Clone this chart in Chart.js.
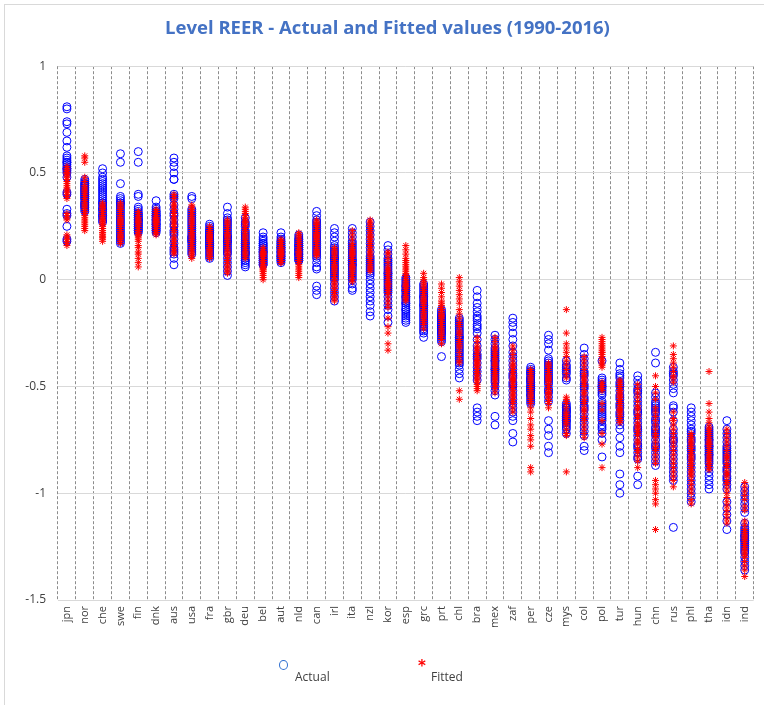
<!DOCTYPE html>
<html>
<head>
<meta charset="UTF-8" />
<title>Level REER - Actual and Fitted values</title>
<style>
    html, body { margin: 0; padding: 0; background: #fff; }
    #wrap { position: relative; width: 764px; height: 705px; overflow: hidden; }
    #frame { position: absolute; left: 4px; top: 4px; width: 780px; height: 720px; border: 1px solid #d9d9d9; box-sizing: border-box; }
    .leg { position: absolute; font-family: 'Open Sans', sans-serif; font-size: 12px; color: #404040; }
    #legActualMark { position: absolute; left: 279px; top: 660px; width: 7px; height: 8px; border: 1.3px solid #2f6fd0; border-radius: 50%; }
    #legFittedMark { position: absolute; left: 418px; top: 659px; color: #ff0000; font-family: 'DejaVu Sans', sans-serif; font-size: 15px; font-weight: bold; line-height: 15px; }
</style>
</head>
<body>
<div id="wrap">
    <div id="frame"></div>
    <canvas id="reerChart" width="764" height="705"></canvas>
    <div id="legActualMark"></div>
    <div class="leg" style="left:295px; top:668px;">Actual</div>
    <div id="legFittedMark">*</div>
    <div class="leg" style="left:431px; top:668px;">Fitted</div>
</div>
<script src="https://cdn.jsdelivr.net/npm/chart.js"></script>
<script>
const countries = ['jpn','nor','che','swe','fin','dnk','aus','usa','fra','gbr','deu','bel','aut','nld','can','irl','ita','nzl','kor','esp',
    'grc','prt','chl','bra','mex','zaf','per','cze','mys','col','pol','tur','hun','chn','rus','phl','tha','idn','ind'];

// actual values 1990-2016, one row per country (same order as countries)
const actualValues = [
    [0.81,0.80,0.74,0.73,0.69,0.65,0.62,0.58,0.57,0.56,0.55,0.55,0.54,0.53,0.52,0.52,0.51,0.50,0.48,0.41,0.40,0.33,0.31,0.30,0.25,0.19,0.18], // jpn
    [0.47,0.46,0.45,0.44,0.43,0.42,0.41,0.40,0.39,0.38,0.37,0.36,0.35,0.34,0.33,0.32,0.45,0.44,0.42,0.40,0.38,0.36,0.35,0.34,0.43,0.41,0.39], // nor
    [0.52,0.50,0.48,0.47,0.45,0.44,0.43,0.41,0.40,0.39,0.38,0.37,0.36,0.35,0.34,0.33,0.32,0.31,0.30,0.29,0.28,0.27,0.42,0.46,0.36,0.33,0.30], // che
    [0.59,0.55,0.45,0.39,0.38,0.37,0.36,0.35,0.34,0.33,0.32,0.31,0.30,0.29,0.28,0.27,0.26,0.25,0.24,0.23,0.22,0.21,0.20,0.19,0.18,0.17,0.36], // swe
    [0.60,0.55,0.40,0.39,0.34,0.33,0.32,0.31,0.30,0.30,0.29,0.29,0.28,0.28,0.27,0.27,0.26,0.26,0.25,0.25,0.24,0.24,0.23,0.23,0.22,0.31,0.28], // fin
    [0.37,0.34,0.33,0.32,0.32,0.31,0.31,0.30,0.30,0.29,0.29,0.28,0.28,0.27,0.27,0.26,0.26,0.25,0.25,0.24,0.24,0.23,0.23,0.22,0.30,0.28,0.26], // dnk
    [0.57,0.55,0.53,0.50,0.47,0.40,0.38,0.35,0.33,0.30,0.28,0.25,0.23,0.21,0.19,0.17,0.15,0.13,0.10,0.07,0.47,0.39,0.31,0.26,0.22,0.14,0.12], // aus
    [0.39,0.38,0.33,0.32,0.31,0.30,0.29,0.28,0.27,0.26,0.25,0.24,0.23,0.22,0.21,0.20,0.19,0.18,0.17,0.16,0.15,0.14,0.13,0.12,0.20,0.19,0.18], // usa
    [0.26,0.25,0.24,0.23,0.23,0.22,0.22,0.21,0.21,0.20,0.20,0.19,0.19,0.18,0.18,0.17,0.17,0.16,0.16,0.15,0.15,0.14,0.13,0.12,0.11,0.10,0.20], // fra
    [0.34,0.31,0.29,0.28,0.27,0.26,0.25,0.24,0.23,0.22,0.21,0.20,0.19,0.18,0.17,0.16,0.15,0.14,0.13,0.12,0.10,0.08,0.06,0.04,0.02,0.20,0.18], // gbr
    [0.29,0.27,0.26,0.25,0.23,0.22,0.21,0.20,0.19,0.18,0.17,0.16,0.15,0.14,0.13,0.12,0.11,0.10,0.09,0.08,0.07,0.06,0.15,0.13,0.17,0.12,0.09], // deu
    [0.22,0.20,0.19,0.18,0.17,0.16,0.16,0.15,0.15,0.14,0.14,0.13,0.13,0.12,0.12,0.11,0.11,0.10,0.10,0.09,0.09,0.08,0.08,0.07,0.07,0.13,0.17], // bel
    [0.22,0.20,0.19,0.18,0.17,0.17,0.16,0.16,0.15,0.15,0.14,0.14,0.13,0.13,0.12,0.12,0.11,0.11,0.10,0.10,0.09,0.09,0.08,0.15,0.13,0.18,0.11], // aut
    [0.21,0.20,0.19,0.19,0.18,0.18,0.17,0.17,0.16,0.16,0.15,0.15,0.14,0.14,0.13,0.13,0.12,0.12,0.11,0.11,0.10,0.10,0.09,0.09,0.16,0.14,0.12], // nld
    [0.32,0.30,0.28,0.27,0.26,0.25,0.24,0.23,0.22,0.21,0.20,0.19,0.18,0.17,0.16,0.15,0.14,0.13,0.12,0.10,0.08,0.06,0.05,-0.03,-0.05,-0.07,0.11], // can
    [0.24,0.22,0.20,0.18,0.16,0.15,0.14,0.13,0.12,0.11,0.10,0.09,0.08,0.07,0.06,0.05,0.04,0.03,0.02,0.01,0.00,-0.02,-0.04,-0.06,-0.08,-0.10,0.10], // irl
    [0.24,0.22,0.20,0.18,0.17,0.16,0.15,0.14,0.13,0.12,0.11,0.10,0.09,0.08,0.07,0.06,0.05,0.04,0.03,0.02,0.01,0.00,-0.02,-0.04,-0.05,0.09,0.07], // ita
    [0.27,0.25,0.23,0.21,0.19,0.17,0.15,0.13,0.11,0.10,0.09,0.08,0.07,0.06,0.05,0.04,0.03,0.02,0.00,-0.02,-0.04,-0.06,-0.08,-0.10,-0.12,-0.15,-0.17], // nzl
    [0.16,0.14,0.12,0.10,0.08,0.07,0.06,0.05,0.04,0.03,0.02,0.01,0.00,-0.01,-0.02,-0.03,-0.04,-0.05,-0.06,-0.08,-0.10,-0.12,-0.14,-0.17,-0.20,0.09,0.03], // kor
    [0.01,0.00,-0.01,-0.02,-0.03,-0.04,-0.05,-0.06,-0.07,-0.08,-0.09,-0.10,-0.11,-0.12,-0.13,-0.14,-0.15,-0.16,-0.17,-0.18,-0.19,-0.20,-0.05,-0.08,-0.11,-0.14,-0.03], // esp
    [-0.02,-0.03,-0.04,-0.05,-0.06,-0.07,-0.08,-0.09,-0.10,-0.11,-0.12,-0.13,-0.14,-0.15,-0.16,-0.17,-0.18,-0.19,-0.20,-0.21,-0.22,-0.23,-0.24,-0.25,-0.27,-0.12,-0.08], // grc
    [-0.14,-0.15,-0.16,-0.17,-0.18,-0.19,-0.20,-0.20,-0.21,-0.21,-0.22,-0.22,-0.23,-0.23,-0.24,-0.24,-0.25,-0.26,-0.27,-0.28,-0.29,-0.36,-0.18,-0.19,-0.22,-0.25,-0.17], // prt
    [-0.18,-0.19,-0.20,-0.21,-0.22,-0.23,-0.24,-0.25,-0.26,-0.27,-0.28,-0.29,-0.30,-0.31,-0.32,-0.33,-0.34,-0.35,-0.36,-0.37,-0.38,-0.39,-0.40,-0.42,-0.44,-0.46,-0.27], // chl
    [-0.05,-0.08,-0.11,-0.13,-0.15,-0.17,-0.19,-0.21,-0.23,-0.25,-0.28,-0.31,-0.33,-0.35,-0.37,-0.39,-0.41,-0.43,-0.45,-0.47,-0.60,-0.62,-0.64,-0.66,-0.18,-0.22,-0.36], // bra
    [-0.26,-0.28,-0.30,-0.32,-0.33,-0.34,-0.35,-0.36,-0.37,-0.38,-0.39,-0.40,-0.41,-0.42,-0.43,-0.44,-0.45,-0.46,-0.47,-0.48,-0.50,-0.52,-0.54,-0.64,-0.68,-0.38,-0.42], // mex
    [-0.18,-0.20,-0.22,-0.25,-0.28,-0.31,-0.34,-0.36,-0.38,-0.40,-0.42,-0.44,-0.46,-0.48,-0.50,-0.52,-0.54,-0.56,-0.58,-0.60,-0.62,-0.64,-0.66,-0.72,-0.76,-0.45,-0.49], // zaf
    [-0.41,-0.42,-0.43,-0.44,-0.45,-0.46,-0.47,-0.48,-0.49,-0.50,-0.51,-0.52,-0.53,-0.54,-0.55,-0.56,-0.57,-0.58,-0.44,-0.46,-0.48,-0.50,-0.52,-0.54,-0.43,-0.47,-0.51], // per
    [-0.26,-0.28,-0.30,-0.33,-0.37,-0.39,-0.40,-0.41,-0.42,-0.43,-0.45,-0.47,-0.49,-0.51,-0.53,-0.55,-0.57,-0.66,-0.70,-0.73,-0.78,-0.81,-0.44,-0.48,-0.52,-0.38,-0.46], // cze
    [-0.38,-0.40,-0.42,-0.44,-0.46,-0.47,-0.58,-0.59,-0.60,-0.61,-0.62,-0.63,-0.64,-0.65,-0.66,-0.67,-0.68,-0.69,-0.70,-0.72,-0.60,-0.62,-0.64,-0.66,-0.41,-0.43,-0.61], // mys
    [-0.32,-0.35,-0.37,-0.39,-0.41,-0.43,-0.45,-0.47,-0.49,-0.51,-0.53,-0.55,-0.57,-0.59,-0.61,-0.63,-0.65,-0.67,-0.69,-0.71,-0.73,-0.78,-0.80,-0.50,-0.56,-0.60,-0.44], // col
    [-0.38,-0.46,-0.48,-0.49,-0.50,-0.51,-0.52,-0.54,-0.57,-0.58,-0.60,-0.62,-0.63,-0.64,-0.66,-0.68,-0.70,-0.72,-0.75,-0.83,-0.47,-0.50,-0.53,-0.59,-0.61,-0.65,-0.69], // pol
    [-0.39,-0.42,-0.44,-0.46,-0.48,-0.50,-0.52,-0.54,-0.56,-0.58,-0.60,-0.62,-0.64,-0.66,-0.68,-0.70,-0.74,-0.78,-0.81,-0.91,-0.96,-1.00,-0.55,-0.59,-0.63,-0.49,-0.45], // tur
    [-0.45,-0.47,-0.49,-0.51,-0.53,-0.55,-0.57,-0.59,-0.61,-0.63,-0.65,-0.67,-0.69,-0.71,-0.73,-0.75,-0.77,-0.79,-0.81,-0.83,-0.84,-0.92,-0.96,-0.62,-0.70,-0.78,-0.52], // hun
    [-0.34,-0.39,-0.53,-0.55,-0.57,-0.59,-0.61,-0.63,-0.65,-0.67,-0.69,-0.71,-0.73,-0.75,-0.77,-0.79,-0.81,-0.83,-0.85,-0.87,-0.60,-0.66,-0.72,-0.78,-0.58,-0.70,-0.62], // chn
    [-0.41,-0.43,-0.45,-0.47,-0.49,-0.51,-0.53,-0.59,-0.62,-0.66,-0.70,-0.72,-0.74,-0.76,-0.78,-0.80,-0.82,-0.84,-0.86,-0.88,-0.90,-0.92,-0.94,-1.16,-0.44,-0.60,-0.75], // rus
    [-0.60,-0.62,-0.64,-0.66,-0.68,-0.70,-0.72,-0.74,-0.76,-0.78,-0.80,-0.82,-0.84,-0.86,-0.88,-0.90,-0.92,-0.94,-0.96,-0.98,-1.00,-1.02,-1.04,-0.71,-0.75,-0.79,-0.83], // phl
    [-0.69,-0.70,-0.71,-0.72,-0.73,-0.74,-0.75,-0.76,-0.77,-0.78,-0.79,-0.80,-0.81,-0.82,-0.83,-0.84,-0.85,-0.86,-0.88,-0.90,-0.92,-0.94,-0.96,-0.98,-0.75,-0.78,-0.82], // tha
    [-0.66,-0.70,-0.72,-0.74,-0.76,-0.78,-0.80,-0.82,-0.84,-0.86,-0.88,-0.90,-0.92,-0.94,-0.96,-0.98,-1.04,-1.07,-1.10,-1.13,-1.17,-0.81,-0.85,-0.89,-0.93,-0.79,-0.83], // idn
    [-0.97,-0.99,-1.01,-1.03,-1.05,-1.07,-1.09,-1.14,-1.16,-1.18,-1.19,-1.20,-1.21,-1.22,-1.23,-1.24,-1.25,-1.26,-1.27,-1.28,-1.30,-1.32,-1.34,-1.36,-1.17,-1.20,-1.22]  // ind
];

// fitted values 1990-2016
const fittedValues = [
    [0.53,0.52,0.51,0.50,0.49,0.48,0.47,0.46,0.45,0.44,0.43,0.42,0.41,0.40,0.39,0.38,0.50,0.31,0.30,0.29,0.28,0.21,0.20,0.19,0.18,0.17,0.16], // jpn
    [0.58,0.57,0.55,0.48,0.46,0.44,0.42,0.40,0.38,0.36,0.34,0.32,0.30,0.28,0.26,0.25,0.24,0.23,0.35,0.37,0.39,0.41,0.43,0.33,0.31,0.29,0.27], // nor
    [0.36,0.35,0.34,0.33,0.32,0.31,0.30,0.29,0.28,0.27,0.26,0.25,0.24,0.23,0.22,0.21,0.20,0.19,0.18,0.34,0.30,0.26,0.22,0.20,0.28,0.32,0.24], // che
    [0.36,0.35,0.34,0.33,0.32,0.31,0.30,0.29,0.28,0.27,0.26,0.25,0.24,0.23,0.22,0.21,0.20,0.19,0.18,0.17,0.30,0.28,0.24,0.20,0.33,0.26,0.22], // swe
    [0.32,0.31,0.30,0.29,0.28,0.27,0.26,0.25,0.24,0.23,0.22,0.21,0.20,0.18,0.16,0.15,0.13,0.12,0.10,0.08,0.06,0.29,0.27,0.25,0.23,0.21,0.19], // fin
    [0.33,0.32,0.31,0.30,0.29,0.28,0.27,0.26,0.25,0.24,0.23,0.22,0.21,0.32,0.30,0.28,0.26,0.24,0.22,0.31,0.29,0.27,0.25,0.23,0.27,0.29,0.25], // dnk
    [0.40,0.39,0.38,0.36,0.34,0.32,0.30,0.28,0.26,0.25,0.24,0.22,0.20,0.18,0.16,0.15,0.14,0.13,0.12,0.33,0.31,0.29,0.27,0.23,0.19,0.17,0.35], // aus
    [0.35,0.34,0.33,0.32,0.31,0.30,0.29,0.28,0.27,0.26,0.25,0.24,0.23,0.22,0.21,0.20,0.19,0.18,0.17,0.16,0.15,0.14,0.13,0.12,0.11,0.10,0.22], // usa
    [0.25,0.24,0.23,0.22,0.22,0.21,0.21,0.20,0.20,0.19,0.19,0.18,0.18,0.17,0.17,0.16,0.16,0.15,0.15,0.14,0.14,0.13,0.12,0.11,0.11,0.10,0.23], // fra
    [0.28,0.27,0.26,0.25,0.24,0.23,0.22,0.21,0.20,0.19,0.18,0.17,0.16,0.15,0.14,0.13,0.12,0.11,0.10,0.09,0.08,0.07,0.06,0.05,0.04,0.03,0.21], // gbr
    [0.34,0.33,0.32,0.31,0.30,0.29,0.28,0.27,0.26,0.25,0.24,0.23,0.22,0.21,0.20,0.19,0.18,0.17,0.16,0.15,0.14,0.13,0.12,0.11,0.10,0.27,0.24], // deu
    [0.15,0.14,0.13,0.13,0.12,0.12,0.11,0.11,0.10,0.10,0.09,0.09,0.08,0.08,0.07,0.07,0.06,0.06,0.05,0.05,0.04,0.04,0.03,0.02,0.01,0.00,0.12], // bel
    [0.19,0.18,0.18,0.17,0.17,0.16,0.16,0.15,0.15,0.14,0.14,0.13,0.13,0.12,0.12,0.11,0.11,0.10,0.10,0.09,0.09,0.08,0.08,0.14,0.16,0.12,0.15], // aut
    [0.22,0.21,0.20,0.19,0.18,0.17,0.16,0.15,0.14,0.13,0.12,0.11,0.10,0.09,0.08,0.07,0.06,0.05,0.04,0.03,0.02,0.01,0.15,0.13,0.11,0.09,0.17], // nld
    [0.28,0.27,0.26,0.25,0.24,0.23,0.22,0.21,0.20,0.19,0.18,0.17,0.16,0.15,0.14,0.13,0.12,0.11,0.26,0.24,0.22,0.20,0.18,0.16,0.14,0.12,0.21], // can
    [0.15,0.14,0.13,0.12,0.11,0.10,0.09,0.08,0.07,0.06,0.05,0.04,0.03,0.02,0.01,0.00,-0.01,-0.02,-0.03,-0.04,-0.05,-0.06,-0.07,-0.08,-0.09,-0.10,0.06], // irl
    [0.23,0.21,0.19,0.17,0.16,0.15,0.14,0.13,0.12,0.11,0.10,0.09,0.08,0.07,0.06,0.05,0.04,0.03,0.02,0.01,0.00,-0.01,0.10,0.08,0.06,0.12,0.14], // ita
    [0.28,0.27,0.26,0.25,0.24,0.23,0.22,0.21,0.20,0.19,0.18,0.17,0.16,0.15,0.14,0.13,0.12,0.11,0.10,0.09,0.08,0.07,0.06,0.05,0.04,0.20,0.16], // nzl
    [0.13,0.12,0.10,0.08,0.06,0.05,0.04,0.03,0.02,0.01,0.00,-0.01,-0.02,-0.03,-0.04,-0.05,-0.06,-0.07,-0.09,-0.11,-0.13,-0.18,-0.22,-0.25,-0.30,-0.33,-0.02], // kor
    [0.16,0.14,0.12,0.09,0.07,0.05,0.04,0.03,0.02,0.01,0.00,-0.01,-0.02,-0.03,-0.04,-0.05,-0.06,-0.07,-0.08,-0.09,-0.10,0.06,0.02,-0.03,-0.05,0.08,0.10], // esp
    [0.03,0.01,0.00,-0.01,-0.02,-0.03,-0.04,-0.05,-0.06,-0.07,-0.08,-0.09,-0.10,-0.11,-0.12,-0.13,-0.14,-0.15,-0.16,-0.17,-0.18,-0.19,-0.20,-0.21,-0.23,-0.05,-0.10], // grc
    [-0.02,-0.04,-0.06,-0.08,-0.10,-0.11,-0.12,-0.13,-0.14,-0.15,-0.16,-0.17,-0.18,-0.19,-0.20,-0.21,-0.22,-0.23,-0.24,-0.25,-0.26,-0.27,-0.28,-0.30,-0.14,-0.17,-0.20], // prt
    [0.01,-0.01,-0.03,-0.05,-0.07,-0.09,-0.11,-0.14,-0.16,-0.18,-0.20,-0.22,-0.24,-0.26,-0.28,-0.30,-0.32,-0.34,-0.36,-0.38,-0.39,-0.52,-0.56,-0.25,-0.29,-0.31,-0.21], // chl
    [-0.27,-0.29,-0.31,-0.32,-0.33,-0.34,-0.35,-0.36,-0.37,-0.38,-0.39,-0.40,-0.41,-0.42,-0.43,-0.44,-0.45,-0.46,-0.47,-0.48,-0.49,-0.50,-0.51,-0.52,-0.38,-0.40,-0.44], // bra
    [-0.27,-0.29,-0.31,-0.32,-0.33,-0.34,-0.35,-0.36,-0.37,-0.38,-0.39,-0.40,-0.41,-0.42,-0.43,-0.44,-0.45,-0.46,-0.47,-0.48,-0.49,-0.50,-0.51,-0.53,-0.36,-0.40,-0.44], // mex
    [-0.31,-0.33,-0.35,-0.37,-0.39,-0.41,-0.42,-0.43,-0.44,-0.45,-0.46,-0.47,-0.48,-0.49,-0.50,-0.51,-0.52,-0.53,-0.54,-0.55,-0.56,-0.57,-0.58,-0.60,-0.62,-0.40,-0.47], // zaf
    [-0.42,-0.43,-0.44,-0.45,-0.46,-0.47,-0.48,-0.49,-0.50,-0.51,-0.52,-0.53,-0.54,-0.55,-0.56,-0.57,-0.58,-0.60,-0.62,-0.65,-0.68,-0.70,-0.73,-0.75,-0.78,-0.88,-0.90], // per
    [-0.39,-0.40,-0.41,-0.42,-0.43,-0.44,-0.45,-0.46,-0.47,-0.48,-0.49,-0.50,-0.51,-0.52,-0.53,-0.54,-0.55,-0.56,-0.57,-0.58,-0.60,-0.45,-0.47,-0.49,-0.51,-0.53,-0.43], // cze
    [-0.14,-0.25,-0.30,-0.32,-0.34,-0.36,-0.38,-0.40,-0.42,-0.44,-0.55,-0.56,-0.57,-0.58,-0.60,-0.62,-0.63,-0.64,-0.65,-0.66,-0.67,-0.68,-0.70,-0.72,-0.73,-0.90,-0.46], // mys
    [-0.36,-0.38,-0.40,-0.42,-0.44,-0.46,-0.48,-0.50,-0.52,-0.54,-0.56,-0.58,-0.60,-0.62,-0.64,-0.66,-0.68,-0.70,-0.72,-0.74,-0.45,-0.49,-0.53,-0.57,-0.61,-0.65,-0.47], // col
    [-0.27,-0.28,-0.29,-0.30,-0.31,-0.32,-0.33,-0.34,-0.35,-0.36,-0.37,-0.38,-0.39,-0.40,-0.41,-0.48,-0.50,-0.52,-0.61,-0.66,-0.72,-0.77,-0.88,-0.49,-0.51,-0.58,-0.34], // pol
    [-0.47,-0.48,-0.49,-0.50,-0.51,-0.52,-0.53,-0.54,-0.55,-0.56,-0.57,-0.58,-0.59,-0.60,-0.61,-0.62,-0.63,-0.64,-0.65,-0.66,-0.67,-0.52,-0.55,-0.58,-0.61,-0.50,-0.57], // tur
    [-0.49,-0.51,-0.53,-0.55,-0.57,-0.59,-0.61,-0.63,-0.65,-0.67,-0.69,-0.71,-0.73,-0.75,-0.77,-0.79,-0.81,-0.83,-0.85,-0.88,-0.60,-0.64,-0.68,-0.72,-0.76,-0.80,-0.70], // hun
    [-0.45,-0.50,-0.53,-0.56,-0.60,-0.64,-0.68,-0.70,-0.72,-0.74,-0.76,-0.78,-0.80,-0.82,-0.84,-0.86,-0.94,-0.96,-0.98,-1.00,-1.03,-1.05,-1.17,-0.66,-0.73,-0.79,-0.62], // chn
    [-0.31,-0.35,-0.37,-0.39,-0.41,-0.43,-0.45,-0.48,-0.62,-0.65,-0.68,-0.70,-0.72,-0.74,-0.76,-0.78,-0.80,-0.82,-0.84,-0.86,-0.88,-0.90,-0.92,-0.94,-0.97,-0.46,-0.66], // rus
    [-0.72,-0.73,-0.74,-0.75,-0.76,-0.77,-0.78,-0.79,-0.80,-0.81,-0.82,-0.83,-0.84,-0.85,-0.86,-0.87,-0.88,-0.89,-0.90,-0.91,-0.92,-0.94,-0.96,-0.98,-1.00,-1.03,-1.05], // phl
    [-0.43,-0.58,-0.62,-0.65,-0.67,-0.69,-0.70,-0.71,-0.72,-0.73,-0.74,-0.75,-0.76,-0.77,-0.78,-0.79,-0.80,-0.81,-0.82,-0.83,-0.84,-0.85,-0.86,-0.87,-0.88,-0.89,-0.77], // tha
    [-0.70,-0.72,-0.74,-0.76,-0.78,-0.80,-0.82,-0.84,-0.86,-0.88,-0.90,-0.92,-0.94,-0.96,-0.98,-1.00,-1.02,-1.04,-1.06,-1.08,-1.10,-1.12,-1.14,-0.83,-0.87,-0.91,-0.95], // idn
    [-0.95,-0.97,-0.99,-1.01,-1.03,-1.06,-1.08,-1.13,-1.15,-1.17,-1.19,-1.20,-1.21,-1.22,-1.23,-1.24,-1.25,-1.26,-1.27,-1.28,-1.29,-1.30,-1.32,-1.34,-1.36,-1.39,-1.18]  // ind
];

const yMin = -1.5;
const yMax = 1;
const yStep = 0.5;

function toPoints(rows) {
    const pts = [];
    rows.forEach((row, i) => {
        row.forEach(v => pts.push({ x: countries[i], y: v }));
    });
    return pts;
}

Chart.defaults.font.family = "'Open Sans', sans-serif";

const ctx = document.getElementById('reerChart');

const reerChart = new Chart(ctx, {
    type: 'line',
    data: {
        labels: countries,
        datasets: [{
            label: 'Actual',
            data: toPoints(actualValues),
            showLine: false,
            pointStyle: 'circle',
            pointRadius: 4,
            pointBorderWidth: 1,
            pointBorderColor: '#0000ff',
            pointBackgroundColor: 'rgba(0,0,0,0)',
            order: 1
        }, {
            label: 'Fitted',
            data: toPoints(fittedValues),
            showLine: false,
            pointStyle: 'star',
            pointRadius: 3.5,
            pointBorderWidth: 1,
            pointBorderColor: '#ff0000',
            pointBackgroundColor: '#ff0000',
            order: 0
        }]
    },
    options: {
        responsive: false,
        animation: false,
        events: [],
        // left padding nudges the title centre to the right, y axis width makes up the rest
        layout: { padding: { left: 18, right: 7, top: 0, bottom: 0 } },
        plugins: {
            legend: { display: false },
            tooltip: { enabled: false },
            title: {
                display: true,
                text: 'Level REER - Actual and Fitted values (1990-2016)',
                color: '#4472c4',
                font: { size: 18.5, weight: 'bold' },
                padding: { top: 18, bottom: 26 }
            }
        },
        scales: {
            x: {
                type: 'category',
                offset: true,
                grid: { offset: true, color: '#8c8c8c', lineWidth: 1, drawTicks: false },
                border: { display: false, dash: [3, 2] },
                ticks: {
                    autoSkip: false,
                    minRotation: 90,
                    maxRotation: 90,
                    padding: 6,
                    color: '#404040',
                    font: { size: 11 }
                },
                afterFit: function (scale) { scale.height = 105; }
            },
            y: {
                min: yMin,
                max: yMax,
                ticks: {
                    stepSize: yStep,
                    padding: 12,
                    color: '#404040',
                    font: { size: 12 },
                    callback: v => String(Math.round(v * 10) / 10)
                },
                grid: { color: '#d9d9d9', drawTicks: false },
                border: { display: false },
                afterFit: function (scale) { scale.width = 40; }
            }
        }
    }
});
</script>
</body>
</html>
